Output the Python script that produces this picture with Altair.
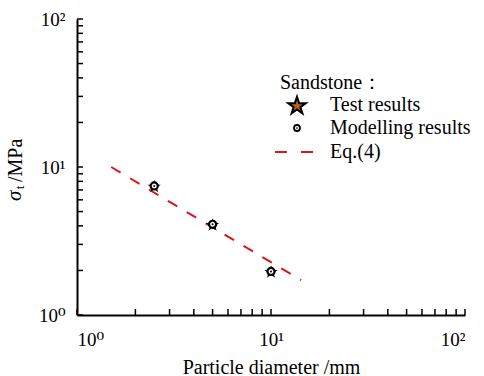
import altair as alt
import pandas as pd

# ---- data ----
diameter = [2.5, 5.0, 10.0]
model_strength = [7.45, 4.1, 1.97]
test_strength = [7.35, 4.05, 1.95]
eq_x = [1.5, 14.3]
eq_y = [10.0, 1.72]
tick_vals = [1, 2, 3, 4, 5, 6, 7, 8, 9, 10, 20, 30, 40, 50, 60, 70, 80, 90, 100]
label_vals = [1, 10, 100]
legend_title = "Sandstone："
legend_labels = ["Test results", "Modelling results", "Eq.(4)"]
x_title = "Particle diameter /mm"

FONT = "'Liberation Serif', 'Times New Roman', 'DejaVu Serif', serif"
W, H = 388, 296
RED = "#d7191c"
STAR = ("M0,-1 L0.225,-0.309 L0.951,-0.309 L0.363,0.118 L0.588,0.809 L0,0.382 "
        "L-0.588,0.809 L-0.363,0.118 L-0.951,-0.309 L-0.225,-0.309 Z")

pts = pd.DataFrame({"d": diameter, "m": model_strength, "t": test_strength})
eq = pd.DataFrame({"d": eq_x, "s": eq_y})
ticks = pd.DataFrame({"v": tick_vals})
one = pd.DataFrame({"k": [0]})

xs = alt.Scale(type="log", domain=[1, 100], nice=False)
ys = alt.Scale(type="log", domain=[1, 100], nice=False)

lab_expr = "datum.value == 1 ? '10⁰' : (datum.value == 10 ? '10¹' : '10²')"

xaxis = alt.Axis(orient="bottom", values=label_vals, labelExpr=lab_expr, ticks=False, grid=False,
                 domainColor="black", domainWidth=2, labelFont=FONT, labelFontSize=19,
                 labelColor="black", labelPadding=15, title=x_title, titleFont=FONT,
                 titleFontSize=20, titleFontWeight="normal", titleColor="black",
                 titlePadding=8)
yaxis = alt.Axis(orient="left", values=label_vals, labelExpr=lab_expr, ticks=False, grid=False,
                 domainColor="black", domainWidth=2, labelFont=FONT, labelFontSize=19,
                 labelColor="black", labelPadding=12, title=None)

eq_line = alt.Chart(eq).mark_line(color=RED, strokeWidth=2, strokeDash=[11, 11]).encode(
    x=alt.X("d:Q", scale=xs, axis=xaxis),
    y=alt.Y("s:Q", scale=ys, axis=yaxis),
)

stars = alt.Chart(pts).mark_point(shape=STAR, filled=True, size=80, fill="#b8651b",
                                  stroke="black", strokeWidth=1.5, opacity=1).encode(
    x=alt.X("d:Q", scale=xs), y=alt.Y("t:Q", scale=ys))
circles = alt.Chart(pts).mark_point(shape="circle", filled=True, size=50, fill="white",
                                    stroke="black", strokeWidth=2.2, opacity=1).encode(
    x=alt.X("d:Q", scale=xs), y=alt.Y("m:Q", scale=ys))
dots = alt.Chart(pts).mark_point(shape="circle", filled=True, size=4, fill="black",
                                 opacity=1).encode(
    x=alt.X("d:Q", scale=xs), y=alt.Y("m:Q", scale=ys))

yticks = alt.Chart(ticks).mark_rule(color="black", strokeWidth=1.5).encode(
    y=alt.Y("v:Q", scale=ys), x=alt.value(0), x2=alt.value(6))
xticks = alt.Chart(ticks).mark_rule(color="black", strokeWidth=1.5).encode(
    x=alt.X("v:Q", scale=xs), y=alt.value(H), y2=alt.value(H - 6))

# y-axis title built from pieces (italic sigma + subscript)
yt1 = alt.Chart(one).mark_text(font=FONT, fontSize=21, fontStyle="italic", angle=270,
                               align="left", baseline="middle", color="black").encode(
    x=alt.value(-62), y=alt.value(182), text=alt.value("σ"))
yt2 = alt.Chart(one).mark_text(font=FONT, fontSize=12, angle=270,
                               align="left", baseline="middle", color="black").encode(
    x=alt.value(-57), y=alt.value(170), text=alt.value("t"))
yt3 = alt.Chart(one).mark_text(font=FONT, fontSize=20, angle=270,
                               align="left", baseline="middle", color="black").encode(
    x=alt.value(-61), y=alt.value(163), text=alt.value(" /MPa"))

# legend
lg_title = alt.Chart(one).mark_text(font=FONT, fontSize=20, align="left", baseline="middle",
                                    color="black").encode(
    x=alt.value(203), y=alt.value(64), text=alt.value(legend_title))
lg_star = alt.Chart(one).mark_point(shape=STAR, filled=True, size=340, fill="#b8651b",
                                    stroke="black", strokeWidth=2, opacity=1).encode(
    x=alt.value(220), y=alt.value(87))
lg_circ = alt.Chart(one).mark_point(shape="circle", filled=True, size=36, fill="white",
                                    stroke="black", strokeWidth=1.8, opacity=1).encode(
    x=alt.value(220), y=alt.value(109))
lg_dot = alt.Chart(one).mark_point(shape="circle", filled=True, size=3, fill="black",
                                   opacity=1).encode(x=alt.value(220), y=alt.value(109))
lg_line = alt.Chart(one).mark_rule(color=RED, strokeWidth=2, strokeDash=[12, 14]).encode(
    x=alt.value(198), x2=alt.value(236), y=alt.value(133))
lg_texts = [
    alt.Chart(one).mark_text(font=FONT, fontSize=20, align="left", baseline="middle",
                             color="black").encode(
        x=alt.value(253), y=alt.value(yy), text=alt.value(lbl))
    for lbl, yy in zip(legend_labels, [86, 109, 133])
]

chart = alt.layer(
    eq_line, stars, circles, dots, yticks, xticks, yt1, yt2, yt3,
    lg_title, lg_star, lg_circ, lg_dot, lg_line, *lg_texts
).properties(
    width=W, height=H,
    autosize=alt.AutoSizeParams(type="none"),
    padding={"left": 77, "top": 19, "right": 19, "bottom": 61},
).configure_view(stroke=None)

chart.save("out.html", embed_options={"renderer": "svg", "actions": False})
